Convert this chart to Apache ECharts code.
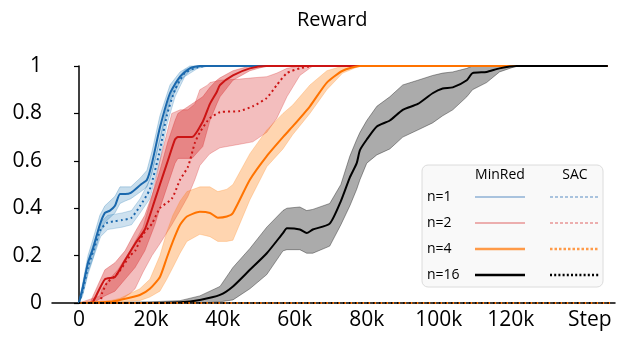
<!DOCTYPE html>
<html>
<head>
<meta charset="utf-8">
<script src="https://cdn.jsdelivr.net/npm/echarts@6/dist/echarts.min.js"></script>
<style>
  html, body { margin: 0; padding: 0; background: #fff; }
  #chart { width: 617px; height: 337px; }
</style>
</head>
<body>
<div id="chart"></div>
<script>
  // steps are in thousands (k)
  const xLabelSteps = [0, 20, 40, 60, 80, 100, 120, 142]
  const yTicks = [0, 0.2, 0.4, 0.6, 0.8, 1]

  // n=1
  const blueMinX = [0, 1.1, 2.5, 3.9, 5.8, 7.2, 8.6, 10, 11.4, 12.8, 14.4, 17.2, 18.9, 20.3, 22.5, 25.3, 28.1, 30.8, 33.6, 36.4, 147]
  const blueMin = [0, 0.07, 0.17, 0.23, 0.33, 0.38, 0.39, 0.41, 0.46, 0.46, 0.465, 0.5, 0.52, 0.59, 0.74, 0.885, 0.955, 0.99, 1, 1, 1]
  const blueMinHi = [0, 0.09, 0.2, 0.27, 0.37, 0.41, 0.43, 0.45, 0.49, 0.49, 0.49, 0.53, 0.56, 0.64, 0.79, 0.92, 0.975, 1, 1, 1, 1]
  const blueMinLo = [0, 0.04, 0.13, 0.19, 0.29, 0.34, 0.36, 0.38, 0.42, 0.43, 0.44, 0.47, 0.49, 0.55, 0.69, 0.85, 0.935, 0.98, 0.995, 1, 1]

  const blueSacX = [0, 1, 2.5, 4, 6, 8, 10, 12, 14.6, 17, 19.7, 22.5, 24.4, 26.7, 29.4, 33, 36, 147]
  const blueSac = [0, 0.05, 0.15, 0.22, 0.31, 0.34, 0.345, 0.35, 0.36, 0.41, 0.48, 0.645, 0.79, 0.9, 0.97, 0.995, 1, 1]
  const blueSacHi = [0, 0.07, 0.18, 0.25, 0.34, 0.37, 0.375, 0.38, 0.39, 0.44, 0.52, 0.69, 0.83, 0.93, 0.985, 1, 1, 1]
  const blueSacLo = [0, 0.03, 0.12, 0.19, 0.28, 0.31, 0.315, 0.32, 0.33, 0.38, 0.44, 0.6, 0.75, 0.87, 0.955, 0.99, 1, 1]

  // n=2
  const redMinX = [0, 3.1, 3.9, 7.2, 10, 12.8, 15.6, 18.3, 21.1, 22.5, 24.7, 26.7, 27.5, 31.4, 34.4, 36.4, 38.3, 39.2, 42.8, 47.5, 52.2, 147]
  const redMin = [0, 0, 0.005, 0.1, 0.11, 0.18, 0.25, 0.31, 0.435, 0.5, 0.6, 0.69, 0.7, 0.7, 0.765, 0.84, 0.89, 0.92, 0.96, 0.99, 1, 1]
  const redMinHi = [0, 0, 0.03, 0.14, 0.17, 0.22, 0.3, 0.37, 0.49, 0.56, 0.68, 0.77, 0.8, 0.84, 0.87, 0.91, 0.94, 0.95, 0.98, 1, 1, 1]
  const redMinLo = [0, 0, 0, 0.03, 0.05, 0.1, 0.15, 0.22, 0.33, 0.4, 0.5, 0.59, 0.61, 0.61, 0.66, 0.77, 0.84, 0.87, 0.94, 0.98, 1, 1]

  const redSacX = [0, 5.8, 6.4, 7.8, 10.8, 14.2, 15.6, 17.8, 20.3, 22.5, 25.8, 28.1, 30.3, 32.2, 33.6, 35.8, 36.4, 39.2, 44.7, 48.3, 52.2, 55, 57.8, 61.4, 65, 147]
  const redSac = [0, 0, 0.04, 0.085, 0.125, 0.2, 0.22, 0.29, 0.335, 0.4, 0.44, 0.52, 0.575, 0.675, 0.72, 0.77, 0.78, 0.805, 0.81, 0.83, 0.865, 0.92, 0.97, 0.99, 1, 1]
  const redSacHi = [0, 0.03, 0.06, 0.09, 0.14, 0.22, 0.26, 0.32, 0.45, 0.6, 0.8, 0.815, 0.815, 0.84, 0.9, 0.92, 0.93, 0.94, 0.945, 0.95, 0.955, 0.97, 0.99, 1, 1, 1]
  const redSacLo = [0, 0, 0, 0, 0.005, 0.04, 0.06, 0.13, 0.2, 0.25, 0.33, 0.39, 0.45, 0.52, 0.58, 0.62, 0.63, 0.655, 0.67, 0.68, 0.72, 0.78, 0.87, 0.96, 1, 1]

  // n=4
  const orangeMinX = [0, 8.6, 11.4, 16.9, 19.7, 22.5, 24.4, 26.1, 28.1, 30, 33.6, 36.4, 38.6, 41.1, 42.8, 47.5, 52.2, 56.7, 59.4, 64.2, 68.9, 73.3, 78.1, 147]
  const orangeMin = [0, 0.005, 0.013, 0.034, 0.06, 0.11, 0.19, 0.26, 0.33, 0.365, 0.385, 0.38, 0.36, 0.365, 0.38, 0.52, 0.62, 0.7, 0.745, 0.83, 0.93, 0.98, 1, 1]
  const orangeMinHi = [0, 0.01, 0.02, 0.06, 0.1, 0.2, 0.3, 0.37, 0.43, 0.47, 0.49, 0.49, 0.47, 0.48, 0.5, 0.63, 0.73, 0.8, 0.835, 0.92, 0.98, 1, 1, 1]
  const orangeMinLo = [0, 0, 0.005, 0.01, 0.025, 0.05, 0.1, 0.15, 0.21, 0.26, 0.29, 0.28, 0.26, 0.26, 0.265, 0.435, 0.575, 0.65, 0.71, 0.8, 0.9, 0.97, 1, 1]
  const orangeSacX = [0, 148]
  const orangeSac = [0, 0]

  // n=16
  const blackMinX = [0, 19.7, 28.1, 33.6, 39.2, 42.8, 47.5, 52.2, 56.7, 57.8, 61.4, 63.3, 65, 69.7, 72.8, 75.3, 77.2, 78.1, 80, 82.8, 86.4, 90, 94.2, 98.3, 101.1, 103.9, 107.8, 109.4, 113.3, 116.9, 121.7, 147]
  const blackMin = [0, 0, 0.003, 0.013, 0.034, 0.07, 0.14, 0.21, 0.295, 0.315, 0.31, 0.295, 0.31, 0.335, 0.43, 0.53, 0.59, 0.645, 0.69, 0.745, 0.77, 0.815, 0.84, 0.885, 0.905, 0.91, 0.94, 0.97, 0.975, 0.99, 1, 1]
  const blackMinHi = [0, 0.005, 0.01, 0.03, 0.07, 0.15, 0.23, 0.32, 0.39, 0.4, 0.405, 0.39, 0.395, 0.42, 0.5, 0.62, 0.69, 0.72, 0.77, 0.83, 0.87, 0.92, 0.94, 0.96, 0.97, 0.975, 0.99, 1, 1, 1, 1, 1]
  const blackMinLo = [0, 0, 0, 0, 0.005, 0.013, 0.06, 0.12, 0.22, 0.225, 0.225, 0.21, 0.21, 0.24, 0.33, 0.41, 0.48, 0.52, 0.59, 0.625, 0.65, 0.7, 0.73, 0.76, 0.79, 0.815, 0.87, 0.9, 0.93, 0.975, 1, 1]
  const blackSacX = [0, 148]
  const blackSac = [0, 0]

  const FONT = '"Open Sans", "Noto Sans", sans-serif'

  function band(xs, lo, hi, fill, stroke) {
    return {
      type: 'custom',
      silent: true,
      data: xs.map((x, i) => [x, lo[i], hi[i]]),
      encode: { x: 0, y: [1, 2] },
      renderItem: function (params, api) {
        if (params.dataIndex !== 0) return
        const pts = []
        for (let i = 0; i < xs.length; i++) pts.push(api.coord([xs[i], hi[i]]))
        for (let i = xs.length - 1; i >= 0; i--) pts.push(api.coord([xs[i], lo[i]]))
        return {
          type: 'polygon',
          shape: { points: pts },
          style: { fill: fill, stroke: stroke, lineWidth: 0.8 }
        }
      }
    }
  }

  function line(xs, ys, color, width, dash) {
    return {
      type: 'line',
      data: xs.map((x, i) => [x, ys[i]]),
      showSymbol: false,
      silent: true,
      smooth: 0.2,
      lineStyle: { color: color, width: width, type: dash || 'solid' },
      z: 3
    }
  }

  const chart = echarts.init(document.getElementById('chart'), null, { renderer: 'canvas' })

  // legend table (layout only)
  const lg = { x: 422, y: 165, w: 181, h: 122 }
  const rows = [
    { label: 'n=1', y: 197, color: '#5b8ec4', width: 1.2, dash: [3, 2] },
    { label: 'n=2', y: 223, color: '#e06464', width: 1.2, dash: [3, 2] },
    { label: 'n=4', y: 249, color: '#ff9a48', width: 2.4, dash: [2.5, 2] },
    { label: 'n=16', y: 275, color: '#000000', width: 2.4, dash: [2, 2.2] }
  ]
  const legendGraphics = [
    {
      type: 'rect',
      shape: { x: lg.x, y: lg.y, width: lg.w, height: lg.h, r: 6 },
      style: { fill: '#f9f9f9', stroke: '#dcdcdc', lineWidth: 1 },
      z: 10
    },
    { type: 'text', z: 11, style: { text: 'MinRed', x: 500, y: 175, font: '14px ' + FONT, fill: '#000', align: 'center', verticalAlign: 'middle' } },
    { type: 'text', z: 11, style: { text: 'SAC', x: 575, y: 175, font: '14px ' + FONT, fill: '#000', align: 'center', verticalAlign: 'middle' } }
  ]
  rows.forEach(r => {
    legendGraphics.push({ type: 'text', z: 11, style: { text: r.label, x: 427, y: r.y, font: '14px ' + FONT, fill: '#000', align: 'left', verticalAlign: 'middle' } })
    legendGraphics.push({ type: 'line', z: 11, shape: { x1: 475, y1: r.y, x2: 525, y2: r.y }, style: { stroke: r.color, lineWidth: r.width } })
    legendGraphics.push({ type: 'line', z: 11, shape: { x1: 550, y1: r.y, x2: 599, y2: r.y }, style: { stroke: r.color, lineWidth: r.width, lineDash: r.dash } })
  })

  const option = {
    animation: false,
    backgroundColor: '#fff',
    title: {
      text: 'Reward',
      left: 292,
      top: 5,
      textStyle: { fontFamily: FONT, fontSize: 20, fontWeight: 'normal', color: '#000' }
    },
    grid: { left: 52, right: 2, top: 66, bottom: 34 },
    xAxis: {
      type: 'value',
      min: -7.5,
      max: 149,
      splitLine: { show: false },
      axisTick: { show: false },
      axisLine: { onZero: false, lineStyle: { color: '#000', width: 1.5 } },
      axisLabel: {
        customValues: xLabelSteps,
        margin: 7,
        fontFamily: FONT,
        fontSize: 21,
        color: '#000',
        formatter: v => (v > 130 ? 'Step' : v === 0 ? '0' : v + 'k')
      }
    },
    yAxis: {
      type: 'value',
      min: 0,
      max: 1,
      interval: 0.2,
      splitLine: { show: false },
      axisLine: { show: true, lineStyle: { color: '#000', width: 1.5 } },
      axisTick: { show: true, length: 5, lineStyle: { color: '#000', width: 1.2 } },
      axisLabel: {
        customValues: yTicks,
        margin: 10,
        fontFamily: FONT,
        fontSize: 21,
        color: '#000',
        formatter: v => String(Math.round(v * 10) / 10)
      }
    },
    graphic: legendGraphics,
    series: [
      band(blueMinX, blueMinLo, blueMinHi, 'rgba(31,119,180,0.25)', 'rgba(31,119,180,0.35)'),
      band(blueSacX, blueSacLo, blueSacHi, 'rgba(31,119,180,0.22)', 'rgba(31,119,180,0.3)'),
      band(redSacX, redSacLo, redSacHi, 'rgba(214,39,40,0.3)', 'rgba(214,39,40,0.35)'),
      band(redMinX, redMinLo, redMinHi, 'rgba(214,39,40,0.38)', 'rgba(214,39,40,0.4)'),
      band(orangeMinX, orangeMinLo, orangeMinHi, 'rgba(255,127,14,0.33)', 'rgba(255,127,14,0.3)'),
      band(blackMinX, blackMinLo, blackMinHi, 'rgba(0,0,0,0.33)', 'rgba(0,0,0,0.45)'),
      line(blueSacX, blueSac, '#1a68ad', 2, [2, 3]),
      line(blueMinX, blueMin, '#1a68ad', 2),
      line(redSacX, redSac, '#cc1414', 2, [2, 3]),
      line(redMinX, redMin, '#cc1414', 2),
      line(orangeMinX, orangeMin, '#ff7300', 2),
      line(blackMinX, blackMin, '#000000', 2),
      line(orangeSacX, orangeSac, '#ff7300', 2, [3, 3]),
      line(blackSacX, blackSac, '#000000', 2, [1.5, 4.5])
    ]
  }

  chart.setOption(option)
</script>
</body>
</html>
